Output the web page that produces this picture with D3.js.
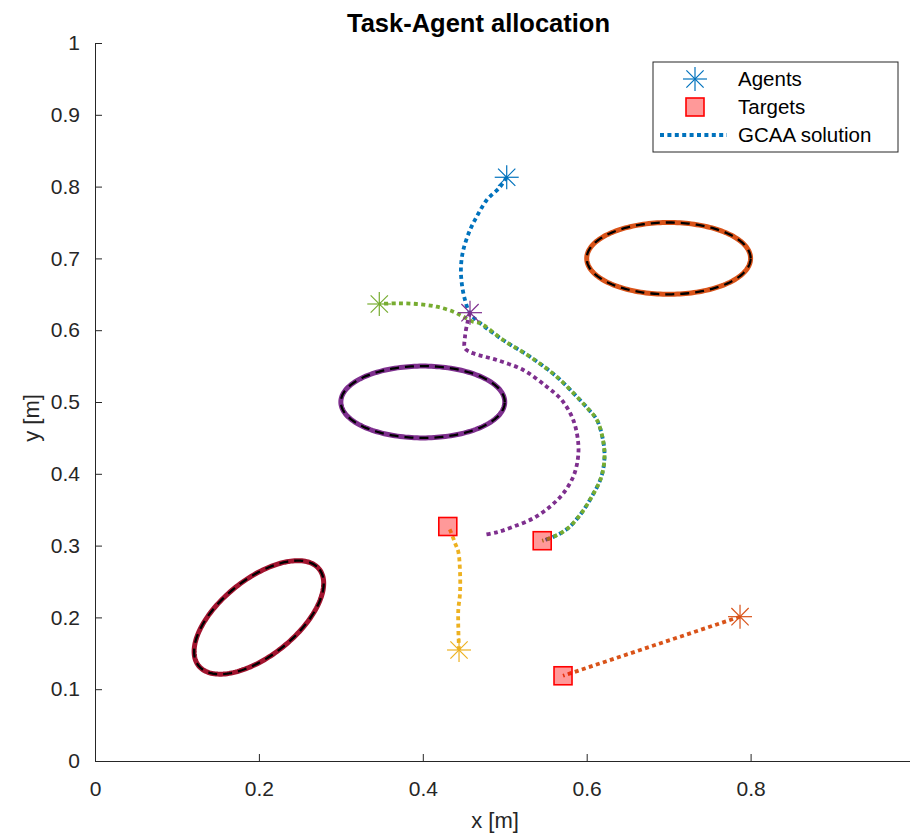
<!DOCTYPE html>
<html>
<head>
<meta charset="utf-8">
<script src="https://cdn.jsdelivr.net/npm/d3@7"></script>
<style>
  html, body { margin: 0; padding: 0; background: #fff; }
  svg { display: block; font-family: "Liberation Sans", Arial, Helvetica, sans-serif; }
</style>
</head>
<body>
<svg id="chart" width="910" height="838"></svg>
<script>
// ---- data -------------------------------------------------------------
const xTicks = [0, 0.2, 0.4, 0.6, 0.8, 1];
const yTicks = [0, 0.1, 0.2, 0.3, 0.4, 0.5, 0.6, 0.7, 0.8, 0.9, 1];

// agents (start positions)
const agentX = [0.5024, 0.7871, 0.4442, 0.4576, 0.3469];
const agentY = [0.8130, 0.2010, 0.1546, 0.6244, 0.6365];
const agentColors = ["#0072BD", "#D95319", "#EDB120", "#7E2F8E", "#77AC30"];

// targets (task positions)
const targetX = [0.4305, 0.5457, 0.5711];
const targetY = [0.3266, 0.3068, 0.1187];

// elliptic obstacles: centre, semi-axes, rotation (deg)
const obstacleCx = [0.7, 0.4, 0.2];
const obstacleCy = [0.7, 0.5, 0.2];
const obstacleA = [0.1, 0.1, 0.1];
const obstacleB = [0.05, 0.05, 0.05];
const obstacleAngle = [0, 0, 45];
const obstacleColors = ["#D95319", "#7E2F8E", "#A2142F"];

// GCAA trajectories, one per agent
const pathBlue = [
  [0.5024, 0.8130], [0.4942, 0.7994], [0.4780, 0.7813], [0.4658, 0.7581],
  [0.4576, 0.7395], [0.4494, 0.7117], [0.4466, 0.6884], [0.4475, 0.6657],
  [0.4515, 0.6421], [0.4576, 0.6235], [0.4698, 0.6100], [0.4979, 0.5864],
  [0.5308, 0.5631], [0.5634, 0.5352], [0.5918, 0.5028], [0.6040, 0.4875],
  [0.6126, 0.4749], [0.6199, 0.4471], [0.6217, 0.4220], [0.6174, 0.3942],
  [0.6052, 0.3663], [0.5918, 0.3426], [0.5760, 0.3231], [0.5589, 0.3120],
  [0.5457, 0.3068]
];
const pathOrange = [[0.7871, 0.2010], [0.5711, 0.1187]];
const pathYellow = [
  [0.4442, 0.1546], [0.4433, 0.1870], [0.4433, 0.2103], [0.4454, 0.2336],
  [0.4454, 0.2637], [0.4433, 0.2915], [0.4393, 0.3036], [0.4332, 0.3217],
  [0.4305, 0.3266]
];
const pathPurple = [
  [0.4576, 0.6244], [0.4543, 0.6096], [0.4515, 0.5910], [0.4515, 0.5748],
  [0.4616, 0.5678], [0.4902, 0.5585], [0.5226, 0.5446], [0.5512, 0.5213],
  [0.5695, 0.5028], [0.5836, 0.4749], [0.5897, 0.4425], [0.5890, 0.4192],
  [0.5836, 0.3960], [0.5714, 0.3728], [0.5552, 0.3542], [0.5348, 0.3380],
  [0.5104, 0.3263], [0.4902, 0.3185], [0.4739, 0.3148]
];
const pathGreen = [
  [0.3469, 0.6365], [0.3682, 0.6375], [0.3926, 0.6365], [0.4170, 0.6327],
  [0.4372, 0.6258], [0.4494, 0.6188], [0.4613, 0.6118], [0.4698, 0.6100],
  [0.4979, 0.5864], [0.5308, 0.5631], [0.5634, 0.5352], [0.5918, 0.5028],
  [0.6040, 0.4875], [0.6126, 0.4749], [0.6199, 0.4471], [0.6217, 0.4220],
  [0.6174, 0.3942], [0.6052, 0.3663], [0.5918, 0.3426], [0.5760, 0.3231],
  [0.5589, 0.3120], [0.5457, 0.3068]
];
const paths = [pathBlue, pathOrange, pathYellow, pathPurple, pathGreen];

const legendLabels = ["Agents", "Targets", "GCAA solution"];

// ---- layout -----------------------------------------------------------
const svg = d3.select("#chart");
const plotLeft = 95, plotRight = 914.5, plotTop = 43, plotBottom = 761;
const x = d3.scaleLinear().domain([0, 1]).range([plotLeft, plotRight]);
const y = d3.scaleLinear().domain([0, 1]).range([plotBottom, plotTop]);
const axisColor = "#262626";

// obstacles: coloured outline with black dashes on top
const ellipsePoints = (i) => d3.range(0, 361, 2).map(t => {
  const a = t * Math.PI / 180, r = obstacleAngle[i] * Math.PI / 180;
  const ex = obstacleA[i] * Math.cos(a), ey = obstacleB[i] * Math.sin(a);
  return [obstacleCx[i] + ex * Math.cos(r) - ey * Math.sin(r),
          obstacleCy[i] + ex * Math.sin(r) + ey * Math.cos(r)];
});
const lineXY = d3.line().x(d => x(d[0])).y(d => y(d[1]));
const gObs = svg.append("g");
obstacleCx.forEach((_, i) => {
  const pts = ellipsePoints(i);
  gObs.append("path").attr("d", lineXY(pts) + "Z")
    .attr("fill", "none").attr("stroke", obstacleColors[i]).attr("stroke-width", 5);
  gObs.append("path").attr("d", lineXY(pts) + "Z")
    .attr("fill", "none").attr("stroke", "#000").attr("stroke-width", 2.3)
    .attr("stroke-dasharray", "9,6");
});

// trajectories (dash period 7.4 px)
const dashOn = 4, dashOff = 3.4, period = dashOn + dashOff;
const curve = d3.line().x(d => x(d[0])).y(d => y(d[1])).curve(d3.curveCatmullRom.alpha(0.5));
const gPaths = svg.append("g");
const pathEls = paths.map((p, i) => gPaths.append("path").attr("d", curve(p))
    .attr("fill", "none").attr("stroke", agentColors[i])
    .attr("stroke-width", 3.8).attr("stroke-dasharray", `${dashOn},${dashOff}`));
// shift the green dashes half a period against the blue ones on the shared stretch
const lenBlue = pathEls[0].node().getTotalLength();
const lenGreen = pathEls[4].node().getTotalLength();
pathEls[4].attr("stroke-dashoffset", lenGreen - lenBlue + period / 2);

// targets
const sq = 18;
svg.append("g").selectAll("rect").data(targetX).join("rect")
  .attr("x", (d) => x(d) - sq / 2)
  .attr("y", (d, i) => y(targetY[i]) - sq / 2)
  .attr("width", sq).attr("height", sq)
  .attr("fill", "rgba(255,0,0,0.4)")
  .attr("stroke", "#ff0000").attr("stroke-width", 1.6);

// agents: asterisk markers
function asterisk(g, cx, cy, color, r) {
  const d = r * 0.72;
  const segs = [[-r, 0, r, 0], [0, -r, 0, r], [-d, -d, d, d], [-d, d, d, -d]];
  segs.forEach(s => g.append("line")
    .attr("x1", cx + s[0]).attr("y1", cy + s[1]).attr("x2", cx + s[2]).attr("y2", cy + s[3])
    .attr("stroke", color).attr("stroke-width", 1.2));
}
const gAgents = svg.append("g");
agentX.forEach((ax, i) => asterisk(gAgents, x(ax), y(agentY[i]), agentColors[i], 12));

// axes (left and bottom only, ticks pointing inwards)
const xAxis = svg.append("g").attr("transform", `translate(0,${plotBottom})`)
  .call(d3.axisBottom(x).tickValues(xTicks).tickFormat(d3.format("")).tickSizeInner(-7).tickSizeOuter(0).tickPadding(20));
const yAxis = svg.append("g").attr("transform", `translate(${plotLeft},0)`)
  .call(d3.axisLeft(y).tickValues(yTicks).tickFormat(d3.format("")).tickSizeInner(-7).tickSizeOuter(0).tickPadding(15));
[xAxis, yAxis].forEach(a => {
  a.select(".domain").attr("stroke", axisColor).attr("stroke-width", 1);
  a.selectAll(".tick line").attr("stroke", axisColor).attr("stroke-width", 1);
  a.selectAll(".tick text").attr("fill", axisColor).attr("font-size", 21)
    .attr("font-family", "'Liberation Sans', Arial, sans-serif");
});

// title and axis labels
svg.append("text").attr("x", 478.5).attr("y", 32).attr("text-anchor", "middle")
  .attr("font-size", 25.5).attr("font-weight", "bold").attr("fill", "#000")
  .text("Task-Agent allocation");
svg.append("text").attr("x", 495).attr("y", 828).attr("text-anchor", "middle")
  .attr("font-size", 22).attr("fill", axisColor).text("x [m]");
svg.append("text").attr("transform", "translate(39,418) rotate(-90)").attr("text-anchor", "middle")
  .attr("font-size", 22).attr("fill", axisColor).text("y [m]");

// legend
const lg = svg.append("g");
lg.append("rect").attr("x", 653).attr("y", 62).attr("width", 245).attr("height", 90)
  .attr("fill", "#fff").attr("stroke", axisColor).attr("stroke-width", 1);
const rowY = [79, 107, 135];
asterisk(lg, 695, rowY[0], agentColors[0], 12);
lg.append("rect").attr("x", 695 - sq / 2).attr("y", rowY[1] - sq / 2).attr("width", sq).attr("height", sq)
  .attr("fill", "rgba(255,0,0,0.4)").attr("stroke", "#ff0000").attr("stroke-width", 1.6);
lg.append("line").attr("x1", 660).attr("x2", 727).attr("y1", rowY[2]).attr("y2", rowY[2])
  .attr("stroke", agentColors[0]).attr("stroke-width", 3.8).attr("stroke-dasharray", `${dashOn},${dashOff}`);
legendLabels.forEach((t, i) => lg.append("text").attr("x", 738).attr("y", rowY[i])
  .attr("dy", "0.35em").attr("font-size", 20.5).attr("fill", "#000").text(t));
</script>
</body>
</html>
